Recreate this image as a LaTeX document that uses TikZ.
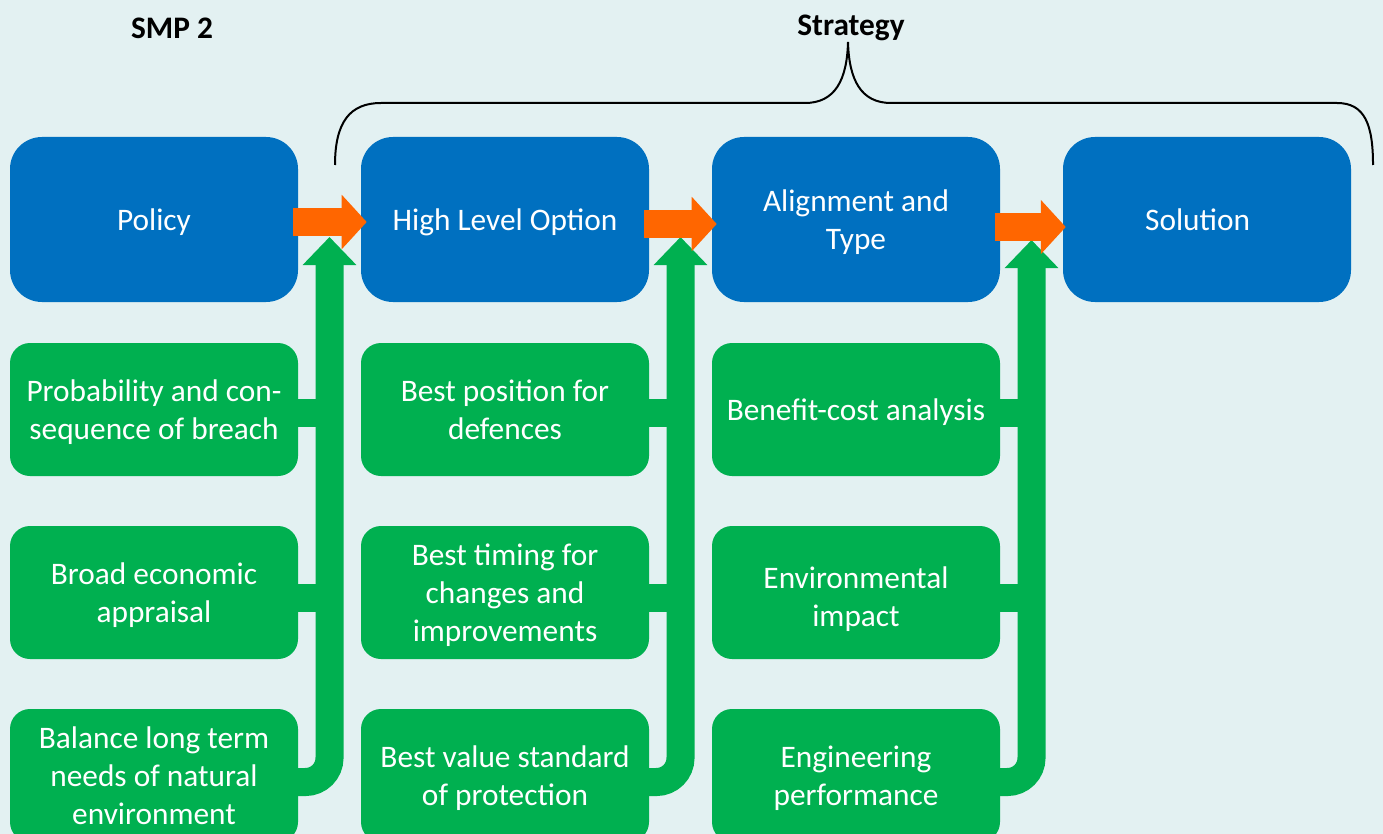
\documentclass[tikz,border=0pt]{standalone}
\usepackage{fontspec}
\setmainfont{Carlito}
\usetikzlibrary{arrows.meta,calc}
\definecolor{bgc}{HTML}{E3F1F2}
\definecolor{boxblue}{HTML}{0070C0}
\definecolor{boxgreen}{HTML}{00B050}
\definecolor{arroworange}{HTML}{FF6600}
\newcommand{\boxfont}{\fontsize{23.5pt}{28.5pt}\selectfont}
\newcommand{\titlefont}{\fontsize{23.5pt}{28.5pt}\selectfont\bfseries}
\begin{document}
\begin{tikzpicture}[x=0.75pt,y=-0.75pt,
  bluebox/.style={fill=boxblue, rounded corners=24pt, minimum width=216pt, minimum height=123.75pt, text=white, align=center, font=\boxfont, inner sep=0pt, text depth=0pt},
  greenbox/.style={fill=boxgreen, rounded corners=15pt, minimum width=216pt, minimum height=99.75pt, text=white, align=center, font=\boxfont, inner sep=0pt, text depth=0pt},
  title/.style={font=\titlefont, text=black, text depth=0pt},
  stub/.style={draw=boxgreen, line width=21pt},
  shaft/.style={draw=boxgreen, line width=21pt, rounded corners=18pt, -{Triangle[length=21pt,width=39pt]}},
  flow/.style={draw=arroworange, line width=20.25pt, -{Triangle[length=18.75pt,width=39.75pt]}},
  brace/.style={draw=black, line width=1.5pt}]
\useasboundingbox (0,0) rectangle (1383,834);
\clip (0,0) rectangle (1383,834);
\fill[bgc] (0,0) rectangle (1383,834);

% titles
\node[title] (smp) at (172,28) {SMP 2};
\node[title] (strat) at (851,25) {Strategy};

% brace
\draw[brace] (335,165) .. controls (335,122) and (350,103) .. (381,103)
  -- (805,103) .. controls (835,103) and (847,80) .. (848,42)
  .. controls (849,80) and (861,103) .. (891,103)
  -- (1337,103) .. controls (1365,103) and (1373,125) .. (1373,165);

% blue boxes
\node[bluebox] (b1) at (154,219.5) {Policy};
\node[bluebox] (b2) at (505,219.5) {High Level Option};
\node[bluebox] (b3) at (856,219.5) {Alignment and\\Type};
\node[bluebox] (b4) at (1207,219.5) {\hspace*{-14pt}Solution};

% green boxes
\node[greenbox] (g11) at (154,409.5) {Probability and con-\\sequence of breach};
\node[greenbox] (g12) at (154,592.5) {Broad economic\\appraisal};
\node[greenbox] (g13) at (154,775.5) {Balance long term\\needs of natural\\environment};
\node[greenbox] (g21) at (505,409.5) {Best position for\\defences};
\node[greenbox] (g22) at (505,592.5) {Best timing for\\changes and\\improvements};
\node[greenbox] (g23) at (505,775.5) {Best value standard\\of protection};
\node[greenbox] (g31) at (856,409.5) {Benefit-cost analysis};
\node[greenbox] (g32) at (856,592.5) {\rule{0pt}{22.5pt}Environmental\\impact};
\node[greenbox] (g33) at (856,775.5) {Engineering\\performance};

% tips of the green arrows
\coordinate (t1) at (329.5,237);
\coordinate (t2) at (680.5,237);
\coordinate (t3) at (1031.5,240);

% green connectors
\foreach \c in {1,2,3}{
  \draw[stub] ($(g\c1.east)+(-2,3.5)$) -- ($(t\c |- g\c1.east)+(0,3.5)$);
  \draw[stub] ($(g\c2.east)+(-2,5.5)$) -- ($(t\c |- g\c2.east)+(0,5.5)$);
  \draw[shaft] ($(g\c3.east)+(-2,6.5)$) -- ($(t\c |- g\c3.east)+(0,6.5)$) -- (t\c);
}

% orange arrows
\draw[flow] ($(b1.east)+(-5,2.5)$) -- ($(b2.west)+(6,2.5)$);
\draw[flow] ($(b2.east)+(-5,4.5)$) -- ($(b3.west)+(5,4.5)$);
\draw[flow] ($(b3.east)+(-5,7.5)$) -- ($(b4.west)+(3,7.5)$);
\end{tikzpicture}
\end{document}
